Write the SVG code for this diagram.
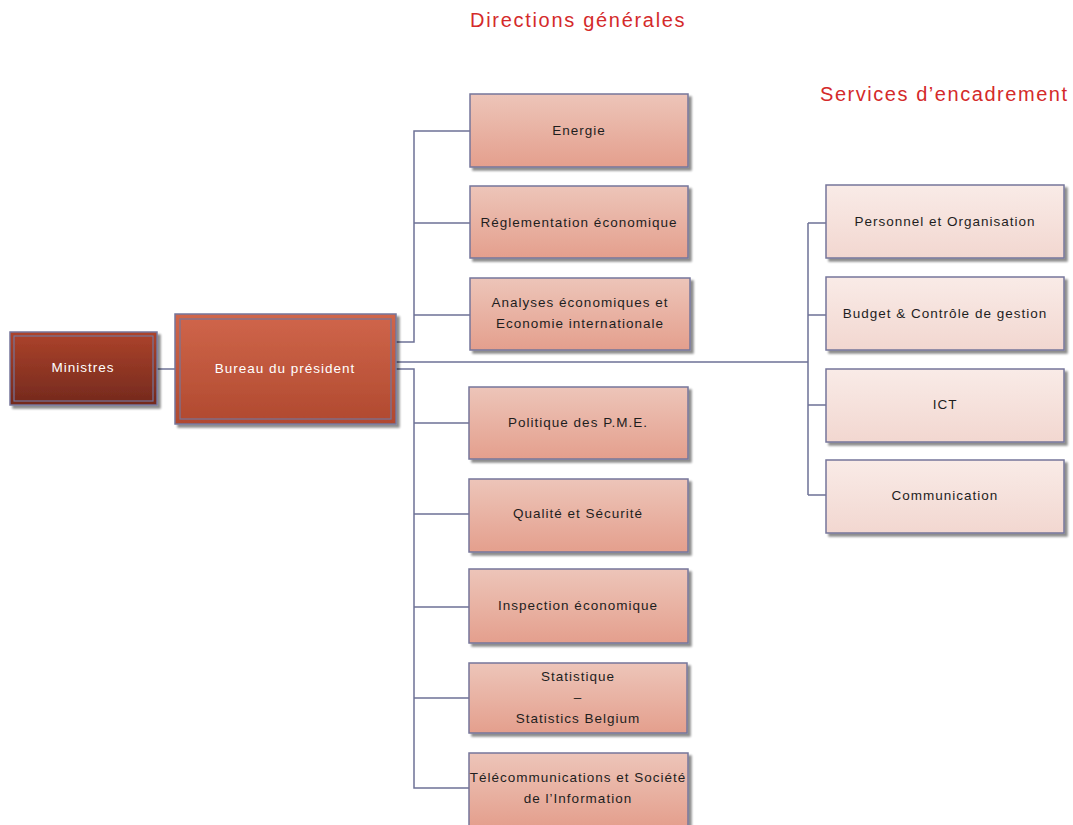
<svg xmlns="http://www.w3.org/2000/svg" width="1073" height="825" viewBox="0 0 1073 825">
<defs>
<linearGradient id="gDir" x1="0" y1="0" x2="0" y2="1"><stop offset="0" stop-color="#edc5b9"/><stop offset="1" stop-color="#e49f8d"/></linearGradient>
<linearGradient id="gSrv" x1="0" y1="0" x2="0" y2="1"><stop offset="0" stop-color="#f9ebe7"/><stop offset="1" stop-color="#f2d7d0"/></linearGradient>
<linearGradient id="gMin" x1="0" y1="0" x2="0" y2="1"><stop offset="0" stop-color="#ad432b"/><stop offset="1" stop-color="#73291d"/></linearGradient>
<linearGradient id="gBur" x1="0" y1="0" x2="0" y2="1"><stop offset="0" stop-color="#d0664b"/><stop offset="1" stop-color="#b0492f"/></linearGradient>
<filter id="sh" x="-5%" y="-5%" width="115%" height="125%">
<feGaussianBlur in="SourceAlpha" stdDeviation="1"/>
<feOffset dx="3" dy="3" result="o"/>
<feComponentTransfer><feFuncA type="linear" slope="0.45"/></feComponentTransfer>
<feMerge><feMergeNode/><feMergeNode in="SourceGraphic"/></feMerge>
</filter>
</defs>
<style>
.box{stroke:#75769a;stroke-width:1.5;filter:url(#sh)}
.dir{fill:url(#gDir)}
.srv{fill:url(#gSrv)}
.inner{fill:none;stroke:#75769a;stroke-width:1.2}
.t{font-family:"Liberation Sans",Arial,sans-serif;font-size:13.5px;letter-spacing:1px;fill:#1e1e1e;text-anchor:middle}
.w{fill:#ffffff}
.title{font-family:"Liberation Sans",Arial,sans-serif;font-size:20px;fill:#d42a2a}
.c{fill:none;stroke:#6e7296;stroke-width:1.5}
</style>

<text class="title" x="470" y="27" letter-spacing="1.7">Directions générales</text>
<text class="title" x="820" y="101" letter-spacing="1.55">Services d’encadrement</text>

<g id="connectors">
<path class="c" d="M157 369 H175"/>
<path class="c" d="M396 342 H414 V131 H470 M414 223 H470 M414 315 H470"/>
<path class="c" d="M396 362 H808 M808 223 V495 M808 223 H826 M808 315 H826 M808 405 H826 M808 495 H826"/>
<path class="c" d="M396 369 H414 V788 H469 M414 423 H469 M414 514 H469 M414 607 H469 M414 698 H469"/>
</g>

<g id="ministres">
<rect class="box" x="10" y="332" width="147" height="73" fill="url(#gMin)"/>
<rect class="inner" x="14" y="336" width="139" height="65"/>
<text class="t w" x="83" y="372">Ministres</text>
</g>

<g id="bureau">
<rect class="box" x="175" y="314" width="221" height="110" fill="url(#gBur)" stroke-width="2"/>
<rect class="inner" x="180" y="319" width="211" height="100"/>
<text class="t w" x="285" y="373">Bureau du président</text>
</g>

<g id="energie">
<rect class="box dir" x="470" y="94" width="218" height="73"/>
<text class="t" x="579" y="135">Energie</text>
</g>
<g id="reglementation">
<rect class="box dir" x="470" y="186" width="218" height="72"/>
<text class="t" x="579" y="227">Réglementation économique</text>
</g>
<g id="analyses">
<rect class="box dir" x="470" y="278" width="220" height="72"/>
<text class="t" x="580" y="307">Analyses économiques et</text>
<text class="t" x="580" y="328">Economie internationale</text>
</g>
<g id="pme">
<rect class="box dir" x="469" y="387" width="219" height="72"/>
<text class="t" x="578" y="427">Politique des P.M.E.</text>
</g>
<g id="qualite">
<rect class="box dir" x="469" y="479" width="219" height="73"/>
<text class="t" x="578" y="518">Qualité et Sécurité</text>
</g>
<g id="inspection">
<rect class="box dir" x="469" y="569" width="219" height="74"/>
<text class="t" x="578" y="610">Inspection économique</text>
</g>
<g id="statistique">
<rect class="box dir" x="469" y="663" width="218" height="70"/>
<text class="t" x="578" y="681">Statistique</text>
<text class="t" x="578" y="702">–</text>
<text class="t" x="578" y="723">Statistics Belgium</text>
</g>
<g id="telecom">
<rect class="box dir" x="469" y="753" width="219" height="74"/>
<text class="t" x="578" y="782">Télécommunications et Société</text>
<text class="t" x="578" y="803">de l’Information</text>
</g>

<g id="personnel">
<rect class="box srv" x="826" y="185" width="238" height="73"/>
<text class="t" x="945" y="226">Personnel et Organisation</text>
</g>
<g id="budget">
<rect class="box srv" x="826" y="277" width="238" height="73"/>
<text class="t" x="945" y="318">Budget &amp; Contrôle de gestion</text>
</g>
<g id="ict">
<rect class="box srv" x="826" y="369" width="238" height="73"/>
<text class="t" x="945" y="409">ICT</text>
</g>
<g id="communication">
<rect class="box srv" x="826" y="460" width="238" height="73"/>
<text class="t" x="945" y="500">Communication</text>
</g>
</svg>
